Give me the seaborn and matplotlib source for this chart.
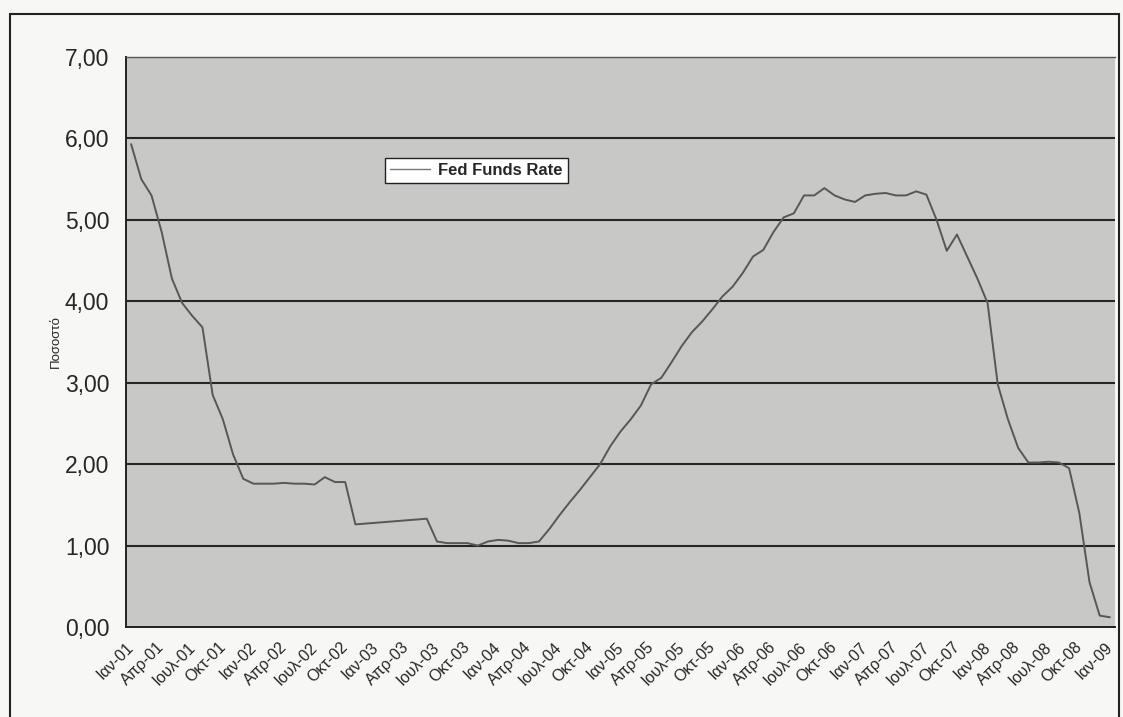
import matplotlib
matplotlib.use("Agg")
import matplotlib.pyplot as plt
import numpy as np
import pandas as pd
import seaborn as sns
from matplotlib.patches import Rectangle

# Monthly effective Fed Funds rate, Jan 2001 .. Jan 2009 (percent)
rate_2001 = [5.93, 5.50, 5.30, 4.85, 4.28, 3.98, 3.82, 3.68, 2.85, 2.55, 2.12, 1.82]
rate_2002 = [1.76, 1.76, 1.76, 1.77, 1.76, 1.76, 1.75, 1.84, 1.78, 1.78, 1.26, 1.27]
rate_2003 = [1.28, 1.29, 1.30, 1.31, 1.32, 1.33, 1.05, 1.03, 1.03, 1.03, 1.00, 1.05]
rate_2004 = [1.07, 1.06, 1.03, 1.03, 1.05, 1.20, 1.37, 1.53, 1.68, 1.84, 2.00, 2.22]
rate_2005 = [2.40, 2.55, 2.72, 2.98, 3.06, 3.25, 3.45, 3.62, 3.75, 3.90, 4.06, 4.18]
rate_2006 = [4.35, 4.55, 4.63, 4.85, 5.03, 5.08, 5.30, 5.30, 5.39, 5.30, 5.25, 5.22]
rate_2007 = [5.30, 5.32, 5.33, 5.30, 5.30, 5.35, 5.31, 5.00, 4.62, 4.82, 4.55, 4.28]
rate_2008 = [3.98, 2.98, 2.55, 2.20, 2.02, 2.02, 2.03, 2.02, 1.95, 1.40, 0.55, 0.14]
rate_2009 = [0.12]

# quarterly category labels (Greek month abbreviations)
tick_labels = [
    "Ιαν-01", "Απρ-01", "Ιουλ-01", "Οκτ-01",
    "Ιαν-02", "Απρ-02", "Ιουλ-02", "Οκτ-02",
    "Ιαν-03", "Απρ-03", "Ιουλ-03", "Οκτ-03",
    "Ιαν-04", "Απρ-04", "Ιουλ-04", "Οκτ-04",
    "Ιαν-05", "Απρ-05", "Ιουλ-05", "Οκτ-05",
    "Ιαν-06", "Απρ-06", "Ιουλ-06", "Οκτ-06",
    "Ιαν-07", "Απρ-07", "Ιουλ-07", "Οκτ-07",
    "Ιαν-08", "Απρ-08", "Ιουλ-08", "Οκτ-08",
    "Ιαν-09",
]
y_ticks = [0, 1, 2, 3, 4, 5, 6, 7]

rate = (rate_2001 + rate_2002 + rate_2003 + rate_2004 + rate_2005
        + rate_2006 + rate_2007 + rate_2008 + rate_2009)
df = pd.DataFrame({"pos": np.arange(len(rate)) + 0.5, "rate": rate})

sns.set_theme(style="white")
plt.rcParams["font.family"] = ["Liberation Sans", "DejaVu Sans"]

fig = plt.figure(figsize=(11.23, 7.17), dpi=100, facecolor="#f7f7f5")
ax = fig.add_axes([126 / 1123, 90 / 717, 989 / 1123, 570 / 717])
ax.set_facecolor("#c8c8c6")

sns.lineplot(data=df, x="pos", y="rate", ax=ax, color="#575757",
             linewidth=1.4, label="Fed Funds Rate", zorder=3)

ax.set_xlim(0, len(rate))
ax.set_ylim(0, 7)
ax.set_yticks(y_ticks)
ax.set_yticklabels([f"{v:.2f}".replace(".", ",") for v in y_ticks], fontsize=16.5)
ax.set_xticks(np.arange(0, len(rate), 3))
ax.set_xticklabels(tick_labels, rotation=45, ha="right", rotation_mode="anchor",
                   fontsize=11.5)
ax.tick_params(axis="x", direction="out", length=5, width=1, color="#222222", pad=4)
ax.tick_params(axis="y", direction="out", length=7, width=1, color="#222222", pad=5)

for v in y_ticks[1:-1]:
    ax.axhline(v, color="#262626", linewidth=1.5, zorder=1)

ax.spines["right"].set_visible(False)
ax.spines["top"].set_color("#555555")
ax.spines["top"].set_linewidth(1.0)
for side in ["left", "bottom"]:
    ax.spines[side].set_color("#222222")
    ax.spines[side].set_linewidth(1.4)

ax.set_xlabel("")
ax.set_ylabel("Ποσοστό", fontsize=9.5)
ax.yaxis.set_label_coords(-0.065, 0.5)

leg = ax.legend(loc="upper left", bbox_to_anchor=(0.262, 0.823), borderaxespad=0,
                frameon=True, fancybox=False, framealpha=1, edgecolor="#222222",
                facecolor="white", handlelength=2.4, handletextpad=0.5,
                fontsize=12, borderpad=0.3)
for t in leg.get_texts():
    t.set_fontweight("bold")
for h in leg.get_lines():
    h.set_linewidth(1.0)
    h.set_color("#777777")
leg.get_frame().set_linewidth(1.0)

# outer frame of the chart
fig.patches.append(Rectangle((10 / 1123, -0.05), 1109 / 1123, (717 - 14) / 717 + 0.05,
                             transform=fig.transFigure, fill=False,
                             edgecolor="#222222", linewidth=1.5))

fig.savefig("out.png", dpi=100, facecolor=fig.get_facecolor())
